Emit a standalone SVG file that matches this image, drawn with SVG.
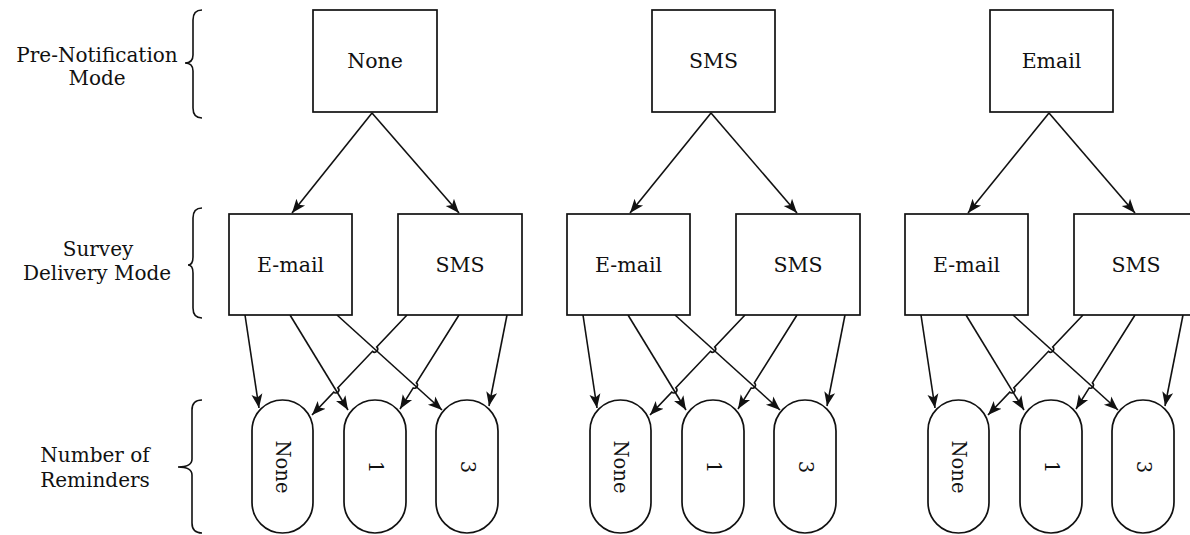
<svg xmlns="http://www.w3.org/2000/svg" width="1190" height="535" viewBox="0 0 1190 535">
<defs>
<style>
.box{fill:#fff;stroke:#111;stroke-width:1.7}
.t{font-family:"DejaVu Serif","Liberation Serif",serif;font-size:20.5px;fill:#111;text-anchor:middle}
.p{font-family:"DejaVu Serif","Liberation Serif",serif;font-size:19.5px;fill:#111;text-anchor:middle}
.lbl{font-family:"DejaVu Serif","Liberation Serif",serif;font-size:20px;fill:#111;text-anchor:middle}
.e{fill:none;stroke:#111;stroke-width:1.6;marker-end:url(#arr)}
.br{fill:none;stroke:#111;stroke-width:1.6}
</style>
<marker id="arr" markerUnits="userSpaceOnUse" markerWidth="15" markerHeight="13" refX="14" refY="6.5" orient="auto">
<path d="M0,1 L14,6.5 L0,12 L3.5,6.5 z" fill="#111"/>
</marker>
</defs>
<rect width="1190" height="535" fill="#fff"/>

<g id="labels">
<text class="lbl" x="97" y="62">Pre-Notification</text>
<text class="lbl" x="97" y="85">Mode</text>
<path class="br" d="M202,10 Q193,10 193,20 L193,55 Q193,63 185,63 Q193,63 193,71 L193,108 Q193,118 202,118"/>
<text class="lbl" x="98" y="256">Survey</text>
<text class="lbl" x="97" y="280">Delivery Mode</text>
<path class="br" d="M202,208 Q193,208 193,218 L193,257 Q193,265 188,265 Q193,265 193,273 L193,308 Q193,318 202,318"/>
<text class="lbl" x="95" y="462">Number of</text>
<text class="lbl" x="95" y="487">Reminders</text>
<path class="br" d="M202,400 Q192,400 192,410 L192,459 Q192,467 178,467 Q192,467 192,475 L192,523 Q192,533 202,533"/>
</g>

<g id="connectors">
<g id="edges1">
<path class="e" d="M372,113 L292,213"/>
<path class="e" d="M372,113 L459,213"/>
<path class="e" d="M245,315 L259,408"/>
<path class="e" d="M290,315 L348,410"/>
<path class="e" d="M337,315 L442,410"/>
<path class="e" d="M407,315 L376.7,346.9 A3,3 0 0 1 372.5,351.3 L337.9,387.8 A3,3 0 0 1 333.7,392.2 L312,415"/>
<path class="e" d="M459,315 L416.4,382.9 A3,3 0 0 1 413.2,387.9 L400,409"/>
<path class="e" d="M507,315 L489,406"/>
</g>
<g id="edges2" transform="translate(338,0)">
<path class="e" d="M373,113 L292,213"/>
<path class="e" d="M373,113 L459,213"/>
<path class="e" d="M245,315 L259,408"/>
<path class="e" d="M290,315 L348,410"/>
<path class="e" d="M337,315 L442,410"/>
<path class="e" d="M407,315 L376.7,346.9 A3,3 0 0 1 372.5,351.3 L337.9,387.8 A3,3 0 0 1 333.7,392.2 L312,415"/>
<path class="e" d="M459,315 L416.4,382.9 A3,3 0 0 1 413.2,387.9 L400,409"/>
<path class="e" d="M507,315 L489,406"/>
</g>
<g id="edges3" transform="translate(676,0)">
<path class="e" d="M373,113 L292,213"/>
<path class="e" d="M373,113 L459,213"/>
<path class="e" d="M245,315 L259,408"/>
<path class="e" d="M290,315 L348,410"/>
<path class="e" d="M337,315 L442,410"/>
<path class="e" d="M407,315 L376.7,346.9 A3,3 0 0 1 372.5,351.3 L337.9,387.8 A3,3 0 0 1 333.7,392.2 L312,415"/>
<path class="e" d="M459,315 L416.4,382.9 A3,3 0 0 1 413.2,387.9 L400,409"/>
<path class="e" d="M507,315 L489,406"/>
</g>
</g>

<g id="pre-none"><rect class="box" x="313" y="10" width="124" height="102"/><text class="t" x="375" y="68">None</text></g>
<g id="pre-sms"><rect class="box" x="652" y="10" width="123" height="102"/><text class="t" x="713.5" y="68">SMS</text></g>
<g id="pre-email"><rect class="box" x="990" y="10" width="123" height="102"/><text class="t" x="1051.5" y="68">Email</text></g>

<g id="d1-email"><rect class="box" x="229" y="214" width="123" height="101"/><text class="t" x="290.5" y="272">E-mail</text></g>
<g id="d1-sms"><rect class="box" x="398" y="214" width="124" height="101"/><text class="t" x="460" y="272">SMS</text></g>
<g id="d2-email"><rect class="box" x="567" y="214" width="123" height="101"/><text class="t" x="628.5" y="272">E-mail</text></g>
<g id="d2-sms"><rect class="box" x="736" y="214" width="124" height="101"/><text class="t" x="798" y="272">SMS</text></g>
<g id="d3-email"><rect class="box" x="905" y="214" width="123" height="101"/><text class="t" x="966.5" y="272">E-mail</text></g>
<g id="d3-sms"><rect class="box" x="1074" y="214" width="124" height="101"/><text class="t" x="1136" y="272">SMS</text></g>

<g id="r1-none"><rect class="box" x="252" y="400" width="61" height="133" rx="30.5"/><text class="p" transform="translate(282.5,467) rotate(90)" dominant-baseline="central">None</text></g>
<g id="r1-1"><rect class="box" x="344" y="400" width="62" height="133" rx="31"/><text class="p" transform="translate(375,467) rotate(90)" dominant-baseline="central">1</text></g>
<g id="r1-3"><rect class="box" x="436" y="400" width="62" height="133" rx="31"/><text class="p" transform="translate(467,467) rotate(90)" dominant-baseline="central">3</text></g>
<g id="r2-none"><rect class="box" x="590" y="400" width="61" height="133" rx="30.5"/><text class="p" transform="translate(620.5,467) rotate(90)" dominant-baseline="central">None</text></g>
<g id="r2-1"><rect class="box" x="682" y="400" width="62" height="133" rx="31"/><text class="p" transform="translate(713,467) rotate(90)" dominant-baseline="central">1</text></g>
<g id="r2-3"><rect class="box" x="774" y="400" width="62" height="133" rx="31"/><text class="p" transform="translate(805,467) rotate(90)" dominant-baseline="central">3</text></g>
<g id="r3-none"><rect class="box" x="928" y="400" width="61" height="133" rx="30.5"/><text class="p" transform="translate(958.5,467) rotate(90)" dominant-baseline="central">None</text></g>
<g id="r3-1"><rect class="box" x="1020" y="400" width="62" height="133" rx="31"/><text class="p" transform="translate(1051,467) rotate(90)" dominant-baseline="central">1</text></g>
<g id="r3-3"><rect class="box" x="1112" y="400" width="62" height="133" rx="31"/><text class="p" transform="translate(1143,467) rotate(90)" dominant-baseline="central">3</text></g>
</svg>
